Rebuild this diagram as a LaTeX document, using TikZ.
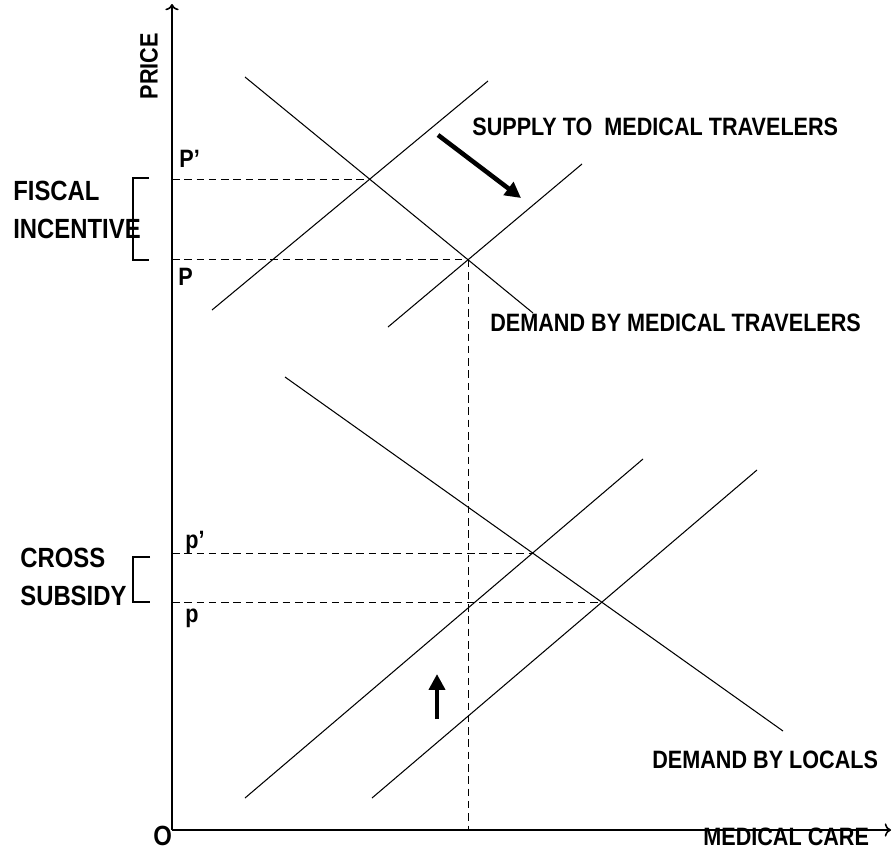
\documentclass[tikz,border=0pt]{standalone}
\usepackage{fontspec}
\newfontfamily\labelfont[FakeStretch=0.86]{Liberation Sans}
\usepackage{tikz}
\usetikzlibrary{positioning}
\usetikzlibrary{arrows.meta}

\begin{document}
\begin{tikzpicture}[x=0.02cm,y=-0.02cm,
		axis/.style={line width=0.9pt},
		curve/.style={line width=0.6pt},
		guide/.style={line width=0.6pt,dash pattern=on 4.3pt off 2.7pt},
		movearrow/.style={line width=2.6pt,-{Triangle[length=9pt,width=9pt]}},
		lbl/.style={font=\labelfont\bfseries\fontsize{14.3}{16}\selectfont,inner sep=0pt},
		biglbl/.style={font=\labelfont\bfseries\fontsize{15.8}{18}\selectfont,inner sep=0pt}]
	\useasboundingbox (0,0) rectangle (892,849);

		% axes
		\coordinate (O) at (172,830);
		\coordinate (ytop) at (172,4);
		\coordinate (xend) at (891,830);
		\draw[axis,->] (O) -- (ytop);
		\draw[axis,->] (O) -- (xend);

		% market for medical travelers
		\coordinate (dTa) at (245,77);
		\coordinate (dTb) at (533,313);
		\coordinate (sTa) at (212,310);
		\coordinate (sTb) at (488,81);
		\coordinate (sTc) at (388,327);
		\coordinate (sTd) at (582,164);
		\draw[curve] (dTa) -- (dTb);
		\draw[curve] (sTa) -- (sTb);
		\draw[curve] (sTc) -- (sTd);

		% market for locals
		\coordinate (dLa) at (285,377);
		\coordinate (dLb) at (783,731);
		\coordinate (sLa) at (245,798);
		\coordinate (sLb) at (643,459);
		\coordinate (sLc) at (372,798);
		\coordinate (sLd) at (757,470);
		\draw[curve] (dLa) -- (dLb);
		\draw[curve] (sLa) -- (sLb);
		\draw[curve] (sLc) -- (sLd);

		% equilibria
		\coordinate (Ehi) at (intersection of dTa--dTb and sTa--sTb);
		\coordinate (Elo) at (intersection of dTa--dTb and sTc--sTd);
		\coordinate (ehi) at (intersection of dLa--dLb and sLa--sLb);
		\coordinate (elo) at (intersection of dLa--dLb and sLc--sLd);
		\draw[guide] (Ehi -| O) -- (Ehi);
		\draw[guide] (Elo -| O) -- (Elo);
		\draw[guide] (Elo) -- (Elo |- O);
		\draw[guide] (ehi -| O) -- (ehi);
		\draw[guide] (elo -| O) -- (elo);

		% brackets
		\draw[axis] (149,178) -- (133,178) -- (133,260) -- (149,260);
		\draw[axis] (150,557) -- (133,557) -- (133,602) -- (150,602);

		% shifts
		\coordinate (mvA) at (438,135);
		\coordinate (mvB) at (521,198);
		\coordinate (mvC) at (437,719);
		\coordinate (mvD) at (437,674);
		\draw[movearrow] (mvA) -- (mvB);
		\draw[movearrow] (mvC) -- (mvD);

		% price labels
		\node[lbl,rotate=90] (price) at (149,66) {PRICE};
		\node[lbl,anchor=base west] (Pp) at (179,167) {P’};
		\node[lbl,anchor=base west] (P) at (178,285) {P};
		\node[lbl,anchor=base west] (pp) at (185,548) {p’};
		\node[lbl,anchor=base west] (p) at (185,622) {p};

		% brackets text
		\node[biglbl,anchor=base west] (fiscal) at (13,200) {FISCAL};
		\node[biglbl,anchor=base west] (incentive) at (13,238) {INCENTIVE};
		\node[biglbl,anchor=base west] (cross) at (20,567) {CROSS};
		\node[biglbl,anchor=base west] (subsidy) at (20,605) {SUBSIDY};

		% curve labels
		\node[lbl,anchor=base west] (supply) at (472,135) {SUPPLY TO\ \ MEDICAL TRAVELERS};
		\node[lbl,anchor=base west] (demT) at (490,331) {DEMAND BY MEDICAL TRAVELERS};
		\node[lbl,anchor=base west] (demL) at (652,768) {DEMAND BY LOCALS};

		% axis labels
		\node[biglbl,anchor=base west] (orig) at (153,845) {O};
		\node[lbl,anchor=base west] (care) at (703,845) {MEDICAL CARE};

	\end{tikzpicture}
\end{document}
